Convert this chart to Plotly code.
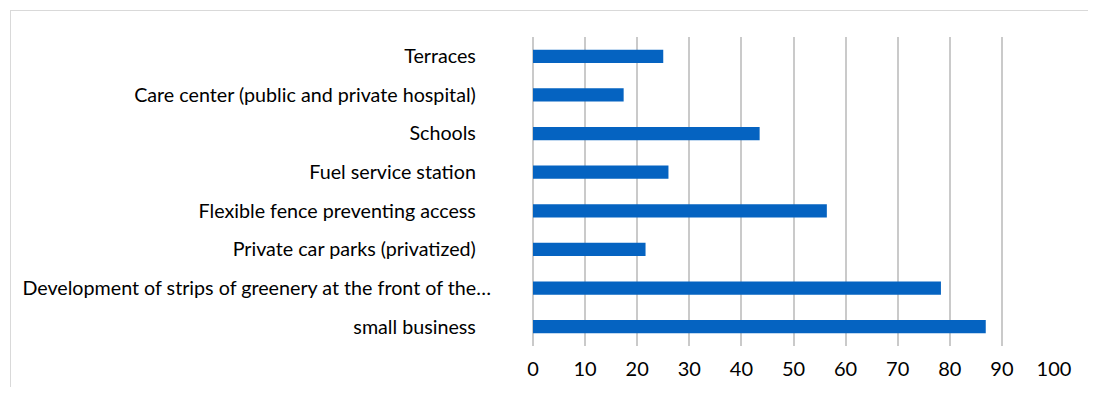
import plotly.graph_objects as go

categories = [
    "Terraces",
    "Care center (public and private hospital)",
    "Schools",
    "Fuel service station",
    "Flexible fence preventing access",
    "Private car parks (privatized)",
    "Development of strips of greenery at the front of the…",
    "small business",
]
values = [25, 17.4, 43.5, 26, 56.4, 21.6, 78.3, 86.9]
x_ticks = [0, 10, 20, 30, 40, 50, 60, 70, 80, 90, 100]

PAD = "\u00a0\u00a0\u00a0"
tick_text = [c if c.endswith("…") else c + PAD for c in categories]

OFF = 8  # browser default body margin
W, H = 1096 - 2 * OFF, 395 - 2 * OFF
L, T = 533 - OFF, 37 - OFF
R = W - L - 521
B = H - (346 - OFF)
pw, ph = W - L - R, H - T - B

fig = go.Figure(go.Bar(
    x=values, y=categories, orientation="h",
    marker=dict(color="#0563C1", line=dict(width=0)),
    hoverinfo="x+y",
))

fig.update_layout(
    width=W, height=H,
    margin=dict(l=L, r=R, t=T, b=B, pad=0, autoexpand=False),
    paper_bgcolor="white", plot_bgcolor="white",
    bargap=0.655,
    showlegend=False,
    font=dict(family="Lato", size=19.7, color="#000000"),
    xaxis=dict(
        range=[0, 100], tickvals=x_ticks, ticktext=[str(v) for v in x_ticks],
        showgrid=True, gridcolor="#CACACA", gridwidth=2,
        zeroline=True, zerolinecolor="#CACACA", zerolinewidth=2,
        showline=False, ticks="", ticklabelstandoff=9,
        tickfont=dict(size=20), automargin=False,
        fixedrange=True,
    ),
    yaxis=dict(
        categoryorder="array", categoryarray=categories,
        autorange="reversed",
        tickvals=categories, ticktext=tick_text,
        showgrid=False, zeroline=False, showline=False, ticks="",
        ticklabelstandoff=41, automargin=False,
        tickfont=dict(size=19.7),
        fixedrange=True,
    ),
    shapes=[
        dict(type="line", xref="paper", yref="paper",
             x0=(2 - L) / pw, x1=(W + 5 - L) / pw,
             y0=1 + (T - 2.5) / ph, y1=1 + (T - 2.5) / ph,
             line=dict(color="#D9D9D9", width=1)),
        dict(type="line", xref="paper", yref="paper",
             x0=(2.5 - L) / pw, x1=(2.5 - L) / pw,
             y0=1 + (T - 2.5) / ph, y1=-(B + 5) / ph,
             line=dict(color="#D9D9D9", width=1)),
    ],
)

fig.write_html("out.html")
